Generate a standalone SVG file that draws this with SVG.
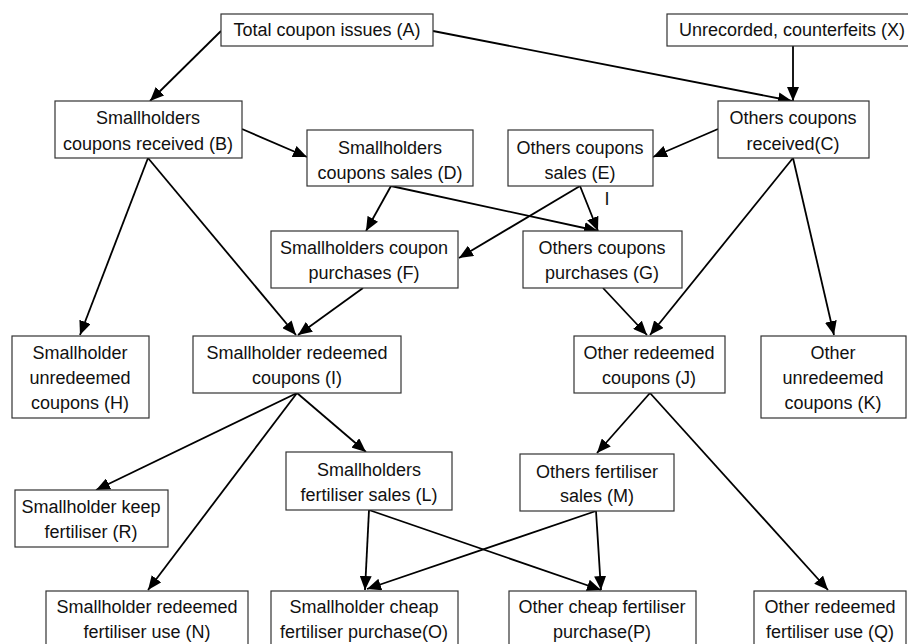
<svg xmlns="http://www.w3.org/2000/svg" width="908" height="644" viewBox="0 0 908 644">
<style>
.box{fill:#fff;stroke:#333;stroke-width:1.2}
text{font-family:"Liberation Sans",Arial,sans-serif;font-size:18px;fill:#111;text-anchor:middle}
.c line{stroke:#000;stroke-width:1.8;marker-end:url(#ah)}
</style>
<defs>
<marker id="ah" viewBox="0 0 14 12" refX="14" refY="6" markerWidth="14" markerHeight="12" orient="auto" markerUnits="userSpaceOnUse">
<path d="M0,0 L14,6 L0,12 z" fill="#000"/>
</marker>
</defs>
<rect width="908" height="644" fill="#fff"/>
<g class="c" id="connectors">
<line x1="221" y1="31" x2="150" y2="101"/>
<line x1="433" y1="31" x2="792" y2="101"/>
<line x1="793" y1="46" x2="793" y2="101"/>
<line x1="242" y1="129" x2="307" y2="157"/>
<line x1="718" y1="129" x2="653" y2="157"/>
<line x1="148" y1="158" x2="80" y2="335"/>
<line x1="148" y1="158" x2="296" y2="335"/>
<line x1="391" y1="186" x2="366" y2="231"/>
<line x1="391" y1="186" x2="598" y2="231"/>
<line x1="580" y1="186" x2="459" y2="258"/>
<line x1="580" y1="186" x2="598" y2="231"/>
<line x1="793" y1="158" x2="650" y2="335"/>
<line x1="793" y1="158" x2="834" y2="335"/>
<line x1="603" y1="288" x2="647" y2="335"/>
<line x1="363" y1="288" x2="298" y2="335"/>
<line x1="297" y1="393" x2="96" y2="490"/>
<line x1="297" y1="393" x2="148" y2="590"/>
<line x1="297" y1="393" x2="366" y2="452"/>
<line x1="650" y1="393" x2="597" y2="453"/>
<line x1="650" y1="393" x2="828" y2="590"/>
<line x1="369" y1="510" x2="365" y2="590"/>
<line x1="369" y1="510" x2="601" y2="590"/>
<line x1="596" y1="511" x2="367" y2="589"/>
<line x1="596" y1="511" x2="601" y2="590"/>
</g>
<text x="607" y="205">I</text>
<g id="A"><rect class="box" x="221" y="14" width="212" height="32"/><text x="327" y="36">Total coupon issues (A)</text></g>
<g id="X"><rect class="box" x="667" y="14" width="245" height="32"/><text x="792" y="36">Unrecorded, counterfeits (X)</text></g>
<g id="B"><rect class="box" x="55" y="101" width="187" height="57"/><text x="148" y="124">Smallholders</text><text x="148" y="150">coupons received (B)</text></g>
<g id="C"><rect class="box" x="718" y="101" width="151" height="57"/><text x="793" y="124">Others coupons</text><text x="793" y="150">received(C)</text></g>
<g id="D"><rect class="box" x="307" y="130" width="166" height="56"/><text x="390" y="154">Smallholders</text><text x="390" y="179">coupons sales (D)</text></g>
<g id="E"><rect class="box" x="508" y="130" width="145" height="56"/><text x="580" y="154">Others coupons</text><text x="580" y="179">sales (E)</text></g>
<g id="F"><rect class="box" x="271" y="231" width="187" height="57"/><text x="364" y="254">Smallholders coupon</text><text x="364" y="279">purchases (F)</text></g>
<g id="G"><rect class="box" x="523" y="231" width="159" height="57"/><text x="602" y="254">Others coupons</text><text x="602" y="279">purchases (G)</text></g>
<g id="H"><rect class="box" x="12" y="336" width="137" height="82"/><text x="80" y="359">Smallholder</text><text x="80" y="384">unredeemed</text><text x="80" y="409">coupons (H)</text></g>
<g id="I"><rect class="box" x="193" y="336" width="208" height="57"/><text x="297" y="359">Smallholder redeemed</text><text x="297" y="384">coupons (I)</text></g>
<g id="J"><rect class="box" x="574" y="336" width="151" height="57"/><text x="649" y="359">Other redeemed</text><text x="649" y="384">coupons (J)</text></g>
<g id="K"><rect class="box" x="761" y="336" width="145" height="82"/><text x="833" y="359">Other</text><text x="833" y="384">unredeemed</text><text x="833" y="409">coupons (K)</text></g>
<g id="R"><rect class="box" x="15" y="490" width="153" height="57"/><text x="91" y="513">Smallholder keep</text><text x="91" y="538">fertiliser (R)</text></g>
<g id="L"><rect class="box" x="286" y="452" width="166" height="58"/><text x="369" y="476">Smallholders</text><text x="369" y="501">fertiliser sales (L)</text></g>
<g id="M"><rect class="box" x="520" y="454" width="154" height="57"/><text x="597" y="478">Others fertiliser</text><text x="597" y="502">sales (M)</text></g>
<g id="N"><rect class="box" x="46" y="591" width="202" height="60"/><text x="147" y="613">Smallholder redeemed</text><text x="147" y="638">fertiliser use (N)</text></g>
<g id="O"><rect class="box" x="271" y="591" width="187" height="60"/><text x="364" y="613">Smallholder cheap</text><text x="364" y="638">fertiliser purchase(O)</text></g>
<g id="P"><rect class="box" x="509" y="591" width="187" height="60"/><text x="602" y="613">Other cheap fertiliser</text><text x="602" y="638">purchase(P)</text></g>
<g id="Q"><rect class="box" x="754" y="591" width="152" height="60"/><text x="830" y="613">Other redeemed</text><text x="830" y="638">fertiliser use (Q)</text></g>
</svg>
